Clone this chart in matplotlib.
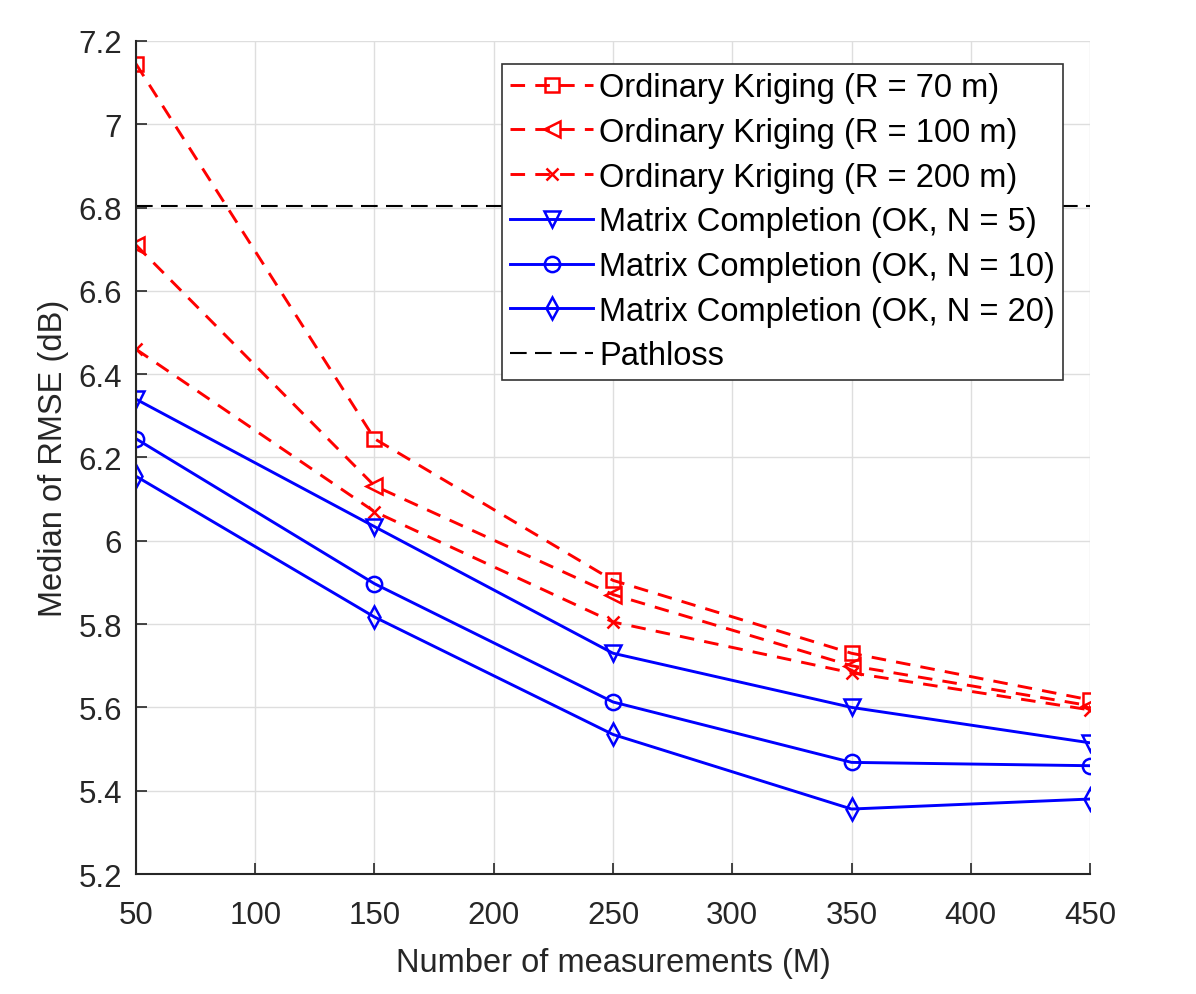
import numpy as np
import matplotlib.pyplot as plt
from matplotlib.ticker import FormatStrFormatter

plt.rcParams['font.family'] = ['Liberation Sans', 'DejaVu Sans']

M = [50, 150, 250, 350, 450]

ok_r70 = [7.145, 6.245, 5.905, 5.730, 5.618]
ok_r100 = [6.710, 6.132, 5.871, 5.700, 5.604]
ok_r200 = [6.460, 6.070, 5.805, 5.683, 5.594]
mc_n5 = [6.340, 6.034, 5.730, 5.600, 5.515]
mc_n10 = [6.245, 5.897, 5.613, 5.468, 5.460]
mc_n20 = [6.155, 5.817, 5.535, 5.356, 5.380]
pathloss = 6.805

fig = plt.figure(figsize=(11.96, 9.95), dpi=100)
ax = fig.add_axes([0.1137, 0.1206, 0.7977, 0.8372])

red_dash = (5, 3.5)
ax.plot(M, ok_r70, color='red', dashes=red_dash, lw=2.1, marker='s', ms=10,
        mfc='none', mew=1.8, label='Ordinary Kriging (R = 70 m)')
ax.plot(M, ok_r100, color='red', dashes=red_dash, lw=2.1, marker='<', ms=11,
        mfc='none', mew=1.8, label='Ordinary Kriging (R = 100 m)')
ax.plot(M, ok_r200, color='red', dashes=red_dash, lw=2.1, marker='x', ms=9,
        mew=1.8, label='Ordinary Kriging (R = 200 m)')
ax.plot(M, mc_n5, color='blue', lw=2.1, marker='v', ms=11, mfc='none', mew=1.8,
        label='Matrix Completion (OK, N = 5)')
ax.plot(M, mc_n10, color='blue', lw=2.1, marker='o', ms=11, mfc='none', mew=1.8,
        label='Matrix Completion (OK, N = 10)')
ax.plot(M, mc_n20, color='blue', lw=2.1, marker='d', ms=11, mfc='none', mew=1.8,
        label='Matrix Completion (OK, N = 20)')
ax.axhline(pathloss, color='black', dashes=(8, 4), lw=1.5, label='Pathloss')

ax.set_xlim(50, 450)
ax.set_ylim(5.2, 7.2)
ax.set_xticks(np.arange(50, 451, 50))
ax.set_yticks(np.arange(5.2, 7.21, 0.2))
ax.yaxis.set_major_formatter(FormatStrFormatter('%g'))
ax.grid(True, color='0.87', lw=1)
ax.set_axisbelow(True)
for s in ['top', 'right']:
    ax.spines[s].set_visible(False)
for s in ['left', 'bottom']:
    ax.spines[s].set_linewidth(1.5)
    ax.spines[s].set_color('0.15')
ax.tick_params(direction='in', length=8, width=1.2, labelsize=22.5, colors='0.15')
ax.tick_params(axis='x', pad=19)
ax.tick_params(axis='y', pad=10)

ax.set_xlabel('Number of measurements (M)', fontsize=23.5, color='0.15', labelpad=12)
ax.set_ylabel('Median of RMSE (dB)', fontsize=23.5, color='0.15', labelpad=7)

leg = ax.legend(loc='upper right', bbox_to_anchor=(0.9717, 0.9724), fontsize=23.5,
                fancybox=False, edgecolor='0.2', framealpha=1, handlelength=2.55,
                handletextpad=0.18, borderpad=0.25, labelspacing=0.42, borderaxespad=0)
leg.get_frame().set_linewidth(1.2)

fig.savefig('out.png', dpi=100)
